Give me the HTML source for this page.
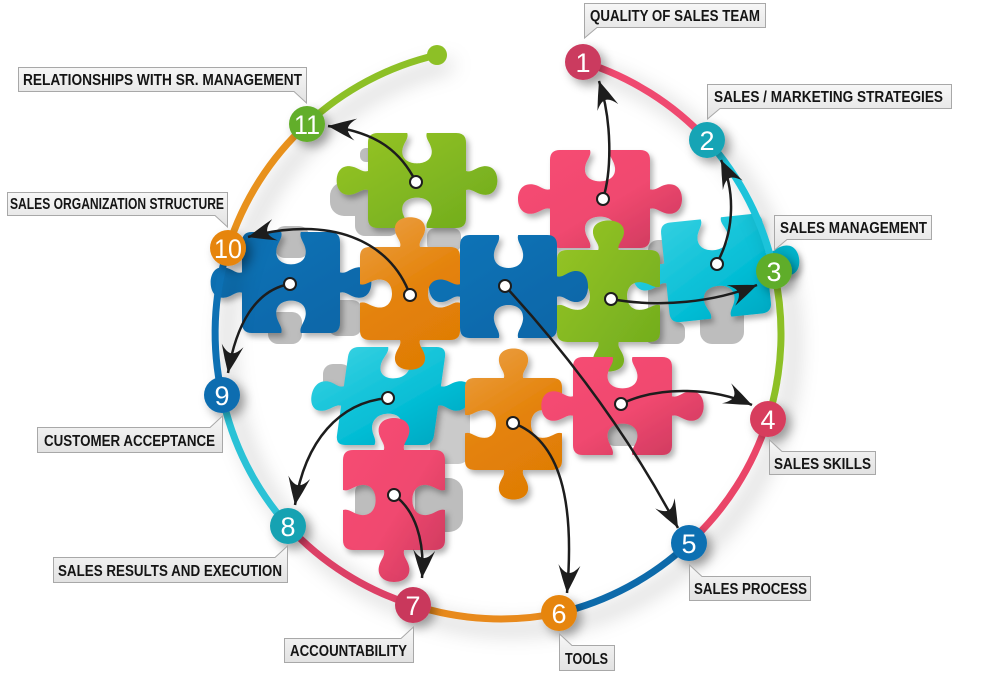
<!DOCTYPE html>
<html><head><meta charset="utf-8"><style>
html,body{margin:0;padding:0;background:#fff;}
svg{display:block;}
</style></head><body>
<svg width="990" height="674" viewBox="0 0 990 674" xmlns="http://www.w3.org/2000/svg">
<defs>
<path id="H" d="M10,0 L40,0 C42,6 36,10 35,18 C34,28 42,32 50,32 C58,32 66,28 65,18 C64,10 58,6 60,0 L90,0 Q100,0 100,10 L100,40 C106,42 110,36 118,35 C128,34 132,42 132,50 C132,58 128,66 118,65 C110,64 106,58 100,60 L100,90 Q100,100 90,100 L60,100 C58,94 64,90 65,82 C66,72 58,68 50,68 C42,68 34,72 35,82 C36,90 42,94 40,100 L10,100 Q0,100 0,90 L0,60 C-6,58 -10,64 -18,65 C-28,66 -32,58 -32,50 C-32,42 -28,34 -18,35 C-10,36 -6,42 0,40 L0,10 Q0,0 10,0 Z"/>
<path id="V" d="M10,0 L40,0 C42,-6 36,-10 35,-18 C34,-28 42,-32 50,-32 C58,-32 66,-28 65,-18 C64,-10 58,-6 60,0 L90,0 Q100,0 100,10 L100,40 C94,42 90,36 82,35 C72,34 68,42 68,50 C68,58 72,66 82,65 C90,64 94,58 100,60 L100,90 Q100,100 90,100 L60,100 C58,106 64,110 65,118 C66,128 58,132 50,132 C42,132 34,128 35,118 C36,110 42,106 40,100 L10,100 Q0,100 0,90 L0,60 C6,58 10,64 18,65 C28,66 32,58 32,50 C32,42 28,34 18,35 C10,36 6,42 0,40 L0,10 Q0,0 10,0 Z"/>
<linearGradient id="gG" x1="0" y1="0" x2="1" y2="1"><stop offset="0" stop-color="#97c526"/><stop offset="1" stop-color="#6fab1d"/></linearGradient>
<linearGradient id="gP" x1="0" y1="0" x2="1" y2="1"><stop offset="0" stop-color="#f74d74"/><stop offset="0.55" stop-color="#f0486f"/><stop offset="1" stop-color="#c9395d"/></linearGradient>
<linearGradient id="gB" x1="0" y1="0" x2="1" y2="1"><stop offset="0" stop-color="#0b74b8"/><stop offset="1" stop-color="#0865a6"/></linearGradient>
<linearGradient id="gO" x1="0" y1="0" x2="0.4" y2="1"><stop offset="0" stop-color="#eba046"/><stop offset="0.6" stop-color="#e48208"/><stop offset="1" stop-color="#e07d06"/></linearGradient>
<linearGradient id="gC" x1="0" y1="0" x2="1" y2="1"><stop offset="0" stop-color="#3cd3e3"/><stop offset="0.6" stop-color="#05bdd5"/><stop offset="1" stop-color="#00a3bd"/></linearGradient>
<linearGradient id="lbl" x1="0" y1="0" x2="0" y2="1"><stop offset="0" stop-color="#f7f7f7"/><stop offset="1" stop-color="#e2e2e2"/></linearGradient>
<filter id="ps" x="-20%" y="-20%" width="140%" height="140%"><feDropShadow dx="3" dy="4" stdDeviation="3" flood-color="#000" flood-opacity="0.3"/></filter>
<filter id="rs" x="-20%" y="-20%" width="140%" height="140%"><feDropShadow dx="12" dy="10" stdDeviation="10" flood-color="#000" flood-opacity="0.28"/></filter>
<filter id="cs" x="-50%" y="-50%" width="200%" height="200%"><feDropShadow dx="5" dy="5" stdDeviation="5" flood-color="#000" flood-opacity="0.35"/></filter>
<marker id="ah" markerUnits="userSpaceOnUse" markerWidth="30" markerHeight="24" refX="28" refY="11" orient="auto" viewBox="0 0 30 24"><path d="M28,11 Q14,5 0,0 Q8,6 8,11 Q8,16 0,22 Q14,17 28,11 Z" fill="#1d1d1d"/></marker>
</defs>

<!-- gray underlying pieces -->
<g fill="#bdbdbd">
<rect x="330" y="182" width="40" height="34" rx="14"/>
<rect x="360" y="148" width="26" height="14" rx="6"/>
<rect x="355" y="200" width="44" height="36" rx="10"/>
<rect x="275" y="226" width="34" height="32" rx="10"/>
<rect x="268" y="312" width="34" height="32" rx="10"/>
<rect x="328" y="300" width="34" height="36" rx="10"/>
<rect x="700" y="280" width="44" height="64" rx="12"/>
<rect x="648" y="240" width="30" height="92" rx="10"/>
<rect x="645" y="322" width="40" height="22" rx="8"/>
<rect x="430" y="402" width="40" height="62" rx="12" fill="#cacaca"/>
<rect x="323" y="364" width="28" height="26" rx="10"/>
<rect x="355" y="482" width="30" height="40" rx="10"/>
<rect x="415" y="478" width="48" height="54" rx="14"/>
<rect x="605" y="416" width="38" height="30" rx="10"/>
<rect x="427" y="228" width="34" height="24" rx="8" fill="#c4c4c4"/>
</g>

<!-- puzzle pieces -->
<g filter="url(#ps)">
<use href="#H" fill="url(#gC)" transform="rotate(-6 716 268) translate(665,218) scale(1.02,1.0)"/>
<use href="#H" fill="url(#gG)" transform="translate(368,133) scale(0.98,0.95)"/>
<use href="#H" fill="url(#gP)" transform="translate(550,150) scale(1,0.98)"/>
<use href="#V" fill="url(#gG)" transform="translate(557,250) scale(1.03,0.92)"/>
<use href="#H" fill="url(#gB)" transform="translate(242,232) scale(0.98,1.01)"/>
<use href="#H" fill="url(#gB)" transform="translate(460,235) scale(0.97,1.03)"/>
<use href="#H" fill="url(#gC)" transform="translate(391,396) skewX(-8) translate(-48.5,-49) scale(0.97,0.98)"/>
<use href="#V" fill="url(#gO)" transform="translate(360,247) scale(1,0.93)"/>
<use href="#V" fill="url(#gO)" transform="translate(465,378) scale(0.97,0.92)"/>
<use href="#H" fill="url(#gP)" transform="translate(573,357) scale(0.99,0.98)"/>
<use href="#V" fill="url(#gP)" transform="translate(343,450) scale(1.02,1.0)"/>
</g>

<!-- ring -->
<g fill="none" stroke-width="7" stroke-linecap="round" filter="url(#rs)">
<path d="M583,62 A285,285 0 0 1 707,140" stroke="#ef4a6f"/>
<path d="M707,140 A285,285 0 0 1 774,271" stroke="#1ec3da"/>
<path d="M774,271 A285,285 0 0 1 768,419" stroke="#8dc026"/>
<path d="M768,419 A285,285 0 0 1 689,543" stroke="#ea4468"/>
<path d="M689,543 A285,285 0 0 1 559,613" stroke="#0b6aaa"/>
<path d="M559,613 A285,285 0 0 1 413,605" stroke="#e88a1e"/>
<path d="M413,605 A285,285 0 0 1 288,526" stroke="#dc4066"/>
<path d="M288,526 A285,285 0 0 1 222,395" stroke="#2bc2d6"/>
<path d="M222,395 A285,285 0 0 1 228,248" stroke="#0b70b3"/>
<path d="M228,248 A285,285 0 0 1 307,124" stroke="#e8911f"/>
<path d="M307,124 A285,285 0 0 1 437,55" stroke="#8dc026"/>
</g>
<circle cx="437" cy="55" r="10" fill="#8dc026"/>

<!-- arrows -->
<g fill="none" stroke="#1d1d1d" stroke-width="2.5" marker-end="url(#ah)">
<path d="M603,199 C612,170 612,120 599,81"/>
<path d="M717,263 C735,230 735,190 721,160"/>
<path d="M611,299 C660,308 715,302 757,285"/>
<path d="M621,404 C660,385 715,388 752,405"/>
<path d="M505,286 Q610,400 678,528"/>
<path d="M513,423 C560,440 575,500 567,593"/>
<path d="M394,495 C415,510 425,540 422,578"/>
<path d="M388,398 C340,402 305,440 295,505"/>
<path d="M290,284 C255,290 236,325 228,373"/>
<path d="M410,295 C390,240 330,215 248,237"/>
<path d="M416,182 C400,150 375,132 328,126"/>
</g>
<g fill="#fff" stroke="#1d1d1d" stroke-width="2">
<circle cx="416" cy="182" r="6"/>
<circle cx="603" cy="199" r="6"/>
<circle cx="290" cy="284" r="6"/>
<circle cx="410" cy="295" r="6"/>
<circle cx="505" cy="286" r="6"/>
<circle cx="611" cy="299" r="6"/>
<circle cx="717" cy="264" r="6"/>
<circle cx="388" cy="398" r="6"/>
<circle cx="513" cy="423" r="6"/>
<circle cx="621" cy="404" r="6"/>
<circle cx="394" cy="495" r="6"/>
</g>

<!-- numbered circles -->
<g filter="url(#cs)">
<circle cx="583" cy="62" r="18" fill="#cb3b5f"/>
<circle cx="707" cy="140" r="18" fill="#17a4b5"/>
<circle cx="774" cy="271" r="18" fill="#5fad2b"/>
<circle cx="768" cy="419" r="18" fill="#d73c5d"/>
<circle cx="689" cy="543" r="18" fill="#0a6fb2"/>
<circle cx="559" cy="613" r="18" fill="#e6850e"/>
<circle cx="413" cy="605" r="18" fill="#c9395b"/>
<circle cx="288" cy="526" r="18" fill="#16a2b2"/>
<circle cx="222" cy="395" r="18" fill="#0a6db0"/>
<circle cx="228" cy="248" r="18" fill="#e6850e"/>
<circle cx="307" cy="124" r="18" fill="#62ae2b"/>
</g>
<g fill="#fff" font-family="Liberation Sans, sans-serif" font-size="27" text-anchor="middle">
<text x="583" y="72">1</text>
<text x="707" y="150">2</text>
<text x="774" y="281">3</text>
<text x="768" y="429">4</text>
<text x="689" y="553">5</text>
<text x="559" y="623">6</text>
<text x="413" y="615">7</text>
<text x="288" y="536">8</text>
<text x="222" y="405">9</text>
<text x="228" y="258" textLength="28" lengthAdjust="spacingAndGlyphs">10</text>
<text x="307" y="134" textLength="26" lengthAdjust="spacingAndGlyphs">11</text>
</g>

<!-- labels -->
<g fill="url(#lbl)" stroke="#a8a8a8" stroke-width="1">
<path d="M584.5,3.5 H765.5 V27.5 H597 L584.5,38 Z"/>
<path d="M707.5,84.5 H951.5 V108.5 H720 L707.5,119 Z"/>
<path d="M774.5,215.5 H931.5 V239.5 H787 L774.5,250 Z"/>
<path d="M769.5,440 L782,451.5 H875.5 V474.5 H769.5 Z"/>
<path d="M689.5,565 L702,576.5 H810.5 V600.5 H689.5 Z"/>
<path d="M559.5,634 L572,645.5 H614.5 V670.5 H559.5 Z"/>
<path d="M284.5,638.5 H401 L413.5,627 V662.5 H284.5 Z"/>
<path d="M53.5,557.5 H275 L287.5,546 V582.5 H53.5 Z"/>
<path d="M37.5,427.5 H210 L222.5,416 V452.5 H37.5 Z"/>
<path d="M7.5,192.5 H227.5 V227 L215,215.5 H7.5 Z"/>
<path d="M18.5,67.5 H306.5 V103 L294,91.5 H18.5 Z"/>
</g>
<g fill="#151515" font-family="Liberation Sans, sans-serif" font-weight="bold" font-size="16">
<text x="590" y="21" textLength="170" lengthAdjust="spacingAndGlyphs">QUALITY OF SALES TEAM</text>
<text x="714" y="102" textLength="229" lengthAdjust="spacingAndGlyphs">SALES / MARKETING STRATEGIES</text>
<text x="780" y="233" textLength="147" lengthAdjust="spacingAndGlyphs">SALES MANAGEMENT</text>
<text x="774" y="469" textLength="97" lengthAdjust="spacingAndGlyphs">SALES SKILLS</text>
<text x="694" y="594" textLength="113" lengthAdjust="spacingAndGlyphs">SALES PROCESS</text>
<text x="565" y="664" textLength="43" lengthAdjust="spacingAndGlyphs">TOOLS</text>
<text x="290" y="656" textLength="117" lengthAdjust="spacingAndGlyphs">ACCOUNTABILITY</text>
<text x="58" y="576" textLength="224" lengthAdjust="spacingAndGlyphs">SALES RESULTS AND EXECUTION</text>
<text x="44" y="446" textLength="171" lengthAdjust="spacingAndGlyphs">CUSTOMER ACCEPTANCE</text>
<text x="10" y="209" textLength="214" lengthAdjust="spacingAndGlyphs">SALES ORGANIZATION STRUCTURE</text>
<text x="23" y="85" textLength="279" lengthAdjust="spacingAndGlyphs">RELATIONSHIPS WITH SR. MANAGEMENT</text>
</g>
</svg>
</body></html>
